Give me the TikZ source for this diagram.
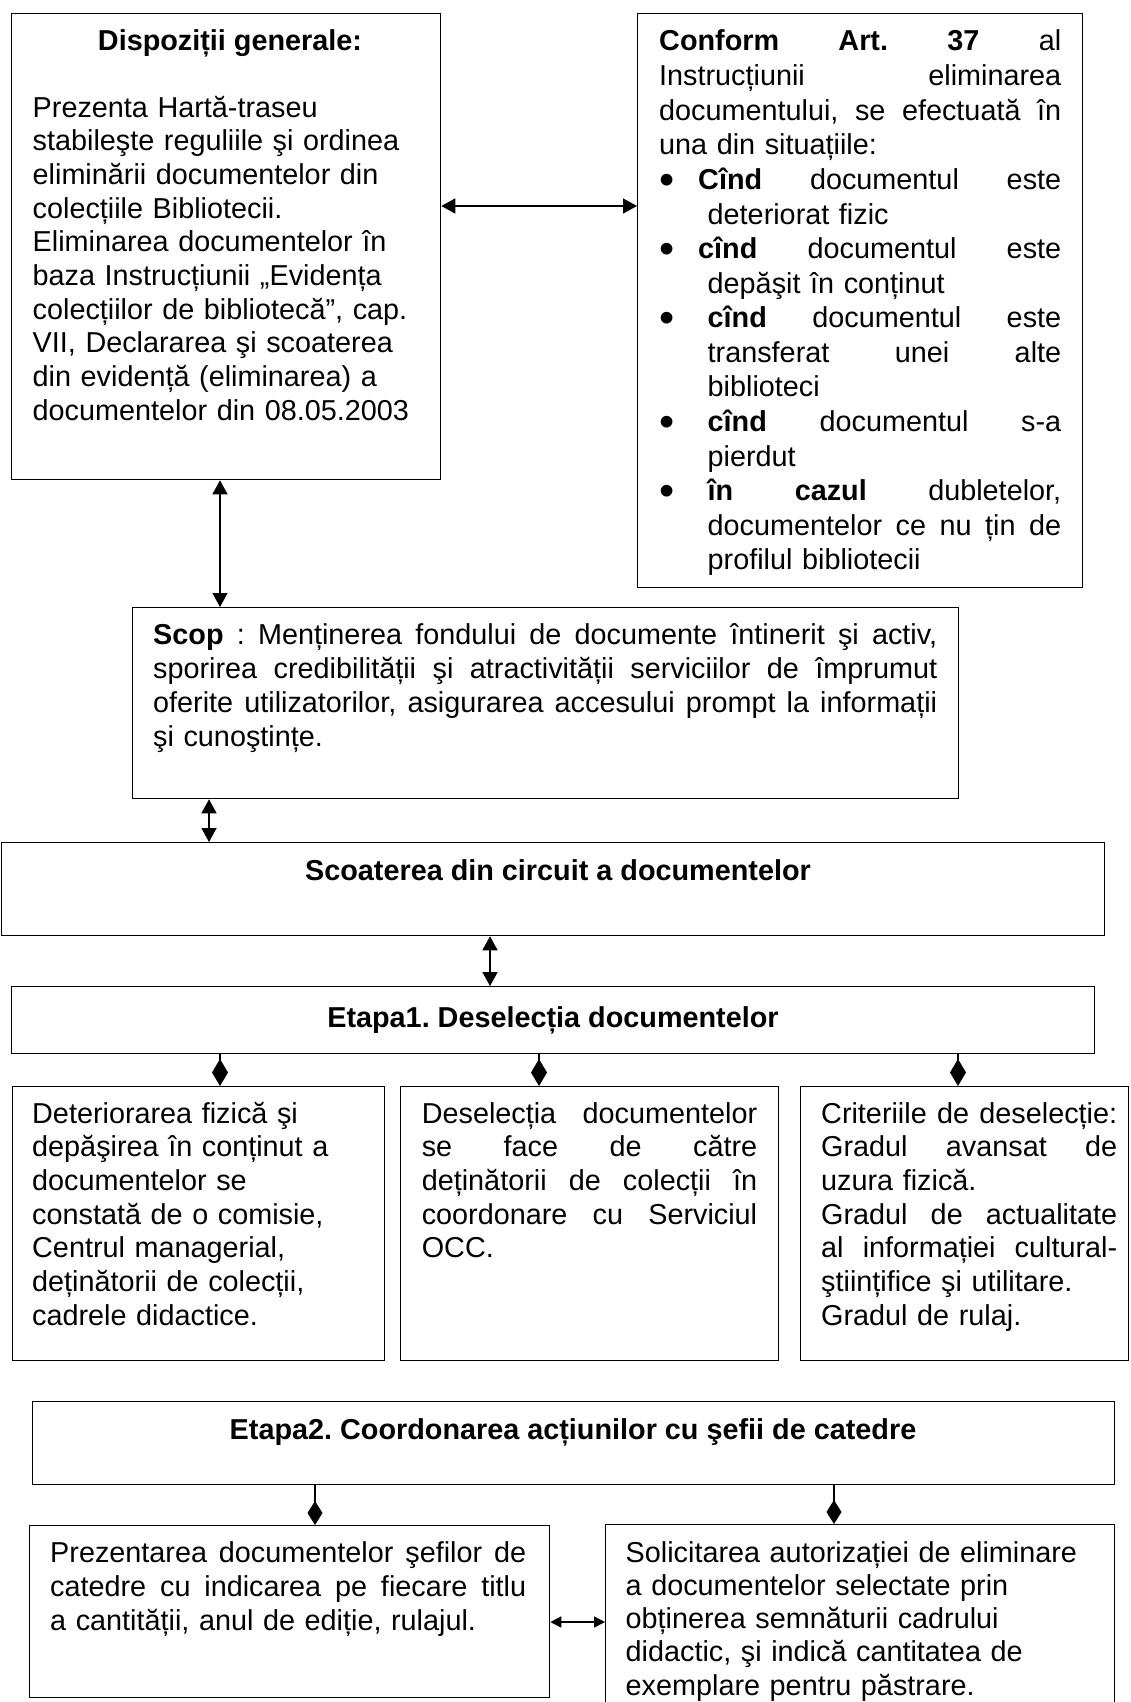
\documentclass[tikz,border=0pt]{standalone}
\usepackage{fontspec}
\setmainfont{Liberation Sans}
\usepackage{graphicx}
\usetikzlibrary{arrows.meta}
\frenchspacing

% one fully justified line, an indented justified line, a list bullet
\newcommand\jline[1]{\makebox[\linewidth][s]{\spaceskip=\fontdimen2\font plus 1fil\relax #1}}
\newcommand\jind[2]{\hspace*{#1}\makebox[\dimexpr\linewidth-#1\relax][s]{\spaceskip=\fontdimen2\font plus 1fil\relax #2}}
\newcommand\bulmark{\makebox[0pt][l]{\raisebox{-5pt}{\scalebox{1.5}{\textbullet}}}}

\tikzset{
  box/.style={draw, rectangle, line width=1.3pt, inner sep=0pt, anchor=north west},
  txt/.style={inner sep=0pt, anchor=base west,
              execute at begin node=\raggedright,
              font=\fontsize{28.8}{33.7}\selectfont},
  ttl/.style={inner sep=0pt, anchor=base,
              font=\fontsize{28.8}{33.7}\selectfont\bfseries},
  dbl/.style={line width=1.5pt,
              {Triangle[length=14pt,width=15pt]}-{Triangle[length=14pt,width=15pt]}},
  dblsmall/.style={line width=1.5pt,
              {Triangle[length=11pt,width=11pt]}-{Triangle[length=11pt,width=11pt]}},
  dia/.style={line width=1.5pt, -{Diamond[length=27pt,width=16pt]}},
  diasmall/.style={line width=1.5pt, -{Diamond[length=24pt,width=15pt]}},
}

\begin{document}
\begin{tikzpicture}[x=1pt,y=-1pt]
\useasboundingbox (0,0) rectangle (1130,1702);
\fill[white] (0,0) rectangle (1130,1702);
\clip (0,0) rectangle (1130,1702);

% ---- boxes ----
\node[box, minimum width=429pt, minimum height=466pt] (b1) at (11,13) {};
\node[box, minimum width=445pt, minimum height=574pt] (b2) at (637,13) {};
\node[box, minimum width=826pt, minimum height=191pt] (scop) at (132,607) {};
\node[box, minimum width=1103pt, minimum height=93pt] (scoat) at (1,842) {};
\node[box, minimum width=1083pt, minimum height=67pt] (et1) at (11,986) {};
\node[box, minimum width=372pt, minimum height=274pt] (ca) at (12,1086) {};
\node[box, minimum width=378pt, minimum height=274pt] (cb) at (400,1086) {};
\node[box, minimum width=328pt, minimum height=274pt] (cc) at (800,1086) {};
\node[box, minimum width=1082pt, minimum height=83pt] (et2) at (32,1401) {};
\node[box, minimum width=520pt, minimum height=172pt] (pa) at (29,1525) {};
\node[box, minimum width=509pt, minimum height=200pt] (pb) at (605,1524) {};

% ---- texts ----
\node[ttl] (b1h) at (230,51) {Dispoziții generale:};
\node[txt, text width=400pt] (b1t) at (32.5,117) {%
Prezenta Hartă-traseu\\
stabileşte reguliile şi ordinea\\
eliminării documentelor din\\
colecțiile Bibliotecii.\\
Eliminarea documentelor în\\
baza Instrucțiunii „Evidența\\
colecțiilor de bibliotecă”, cap.\\
VII, Declararea şi scoaterea\\
din evidență (eliminarea) a\\
documentelor din 08.05.2003};

\node[txt, text width=402pt, font=\fontsize{28.8}{34.6}\selectfont] (b2t) at (659,51) {%
\jline{\textbf{Conform Art. 37} al}\\
\jline{Instrucțiunii eliminarea}\\
\jline{documentului, se efectuată în}\\
una din situațiile:\\
\bulmark\jind{39pt}{\textbf{Cînd} documentul este}\\
\hspace*{48.5pt}deteriorat fizic\\
\bulmark\jind{39pt}{\textbf{cînd} documentul este}\\
\hspace*{48.5pt}depăşit în conținut\\
\bulmark\jind{48.5pt}{\textbf{cînd} documentul este}\\
\jind{48.5pt}{transferat unei alte}\\
\hspace*{48.5pt}biblioteci\\
\bulmark\jind{48.5pt}{\textbf{cînd} documentul s-a}\\
\hspace*{48.5pt}pierdut\\
\bulmark\jind{48.5pt}{\textbf{în cazul} dubletelor,}\\
\jind{48.5pt}{documentelor ce nu țin de}\\
\hspace*{48.5pt}profilul bibliotecii};

\node[txt, text width=784pt, font=\fontsize{28.8}{34}\selectfont] (scopt) at (153,644) {%
\jline{\textbf{Scop} : Menținerea fondului de documente întinerit şi activ,}\\
\jline{sporirea credibilității şi atractivității serviciilor de împrumut}\\
\jline{oferite utilizatorilor, asigurarea accesului prompt la informații}\\
şi cunoştințe.};

\node[ttl] (scoatt) at (558,880) {Scoaterea din circuit a documentelor};
\node[ttl] (et1t) at (553,1027) {Etapa1. Deselecția documentelor};

\node[txt, text width=345pt] (cat) at (32,1123) {%
Deteriorarea fizică şi\\
depăşirea în conținut a\\
documentelor se\\
constată de o comisie,\\
Centrul managerial,\\
deținătorii de colecții,\\
cadrele didactice.};

\node[txt, text width=335.4pt] (cbt) at (421.6,1123) {%
\jline{Deselecția documentelor}\\
\jline{se face de către}\\
\jline{deținătorii de colecții în}\\
\jline{coordonare cu Serviciul}\\
OCC.};

\node[txt, text width=296pt] (cct) at (821,1123) {%
\jline{Criteriile de deselecție:}\\
\jline{Gradul avansat de}\\
uzura fizică.\\
\jline{Gradul de actualitate}\\
\jline{al informației cultural-}\\
ştiințifice şi utilitare.\\
Gradul de rulaj.};

\node[ttl] (et2t) at (573,1439) {Etapa2. Coordonarea acțiunilor cu şefii de catedre};

\node[txt, text width=476pt, font=\fontsize{28.8}{34}\selectfont] (pat) at (50,1562) {%
\jline{Prezentarea documentelor şefilor de}\\
\jline{catedre cu indicarea pe fiecare titlu}\\
a cantității, anul de ediție, rulajul.};

\node[txt, text width=480pt, font=\fontsize{28.8}{33.3}\selectfont] (pbt) at (625.5,1562) {%
Solicitarea autorizației de eliminare\\
a documentelor selectate prin\\
obținerea semnăturii cadrului\\
didactic, şi indică cantitatea de\\
exemplare pentru păstrare.};

% ---- connector positions ----
\coordinate (ha) at (0,206);
\coordinate (va) at (220,0);
\coordinate (vb) at (209,0);
\coordinate (vc) at (490,0);
\coordinate (da) at (220,0);
\coordinate (db) at (539,0);
\coordinate (dc) at (958,0);
\coordinate (dd) at (315,0);
\coordinate (de) at (834,0);
\coordinate (hb) at (0,1622);

% ---- connectors ----
\draw[dbl] (b1.east |- ha) -- (b2.west |- ha);
\draw[dbl] (b1.south -| va) -- (scop.north -| va);
\draw[dbl] (scop.south -| vb) -- (scoat.north -| vb);
\draw[dbl] (scoat.south -| vc) -- (et1.north -| vc);
\draw[dia] (et1.south -| da) -- (ca.north -| da);
\draw[dia] (et1.south -| db) -- (cb.north -| db);
\draw[dia] (et1.south -| dc) -- (cc.north -| dc);
\draw[diasmall] (et2.south -| dd) -- (pa.north -| dd);
\draw[diasmall] (et2.south -| de) -- (pb.north -| de);
\draw[dblsmall] (pa.east |- hb) -- (pb.west |- hb);
\end{tikzpicture}
\end{document}
